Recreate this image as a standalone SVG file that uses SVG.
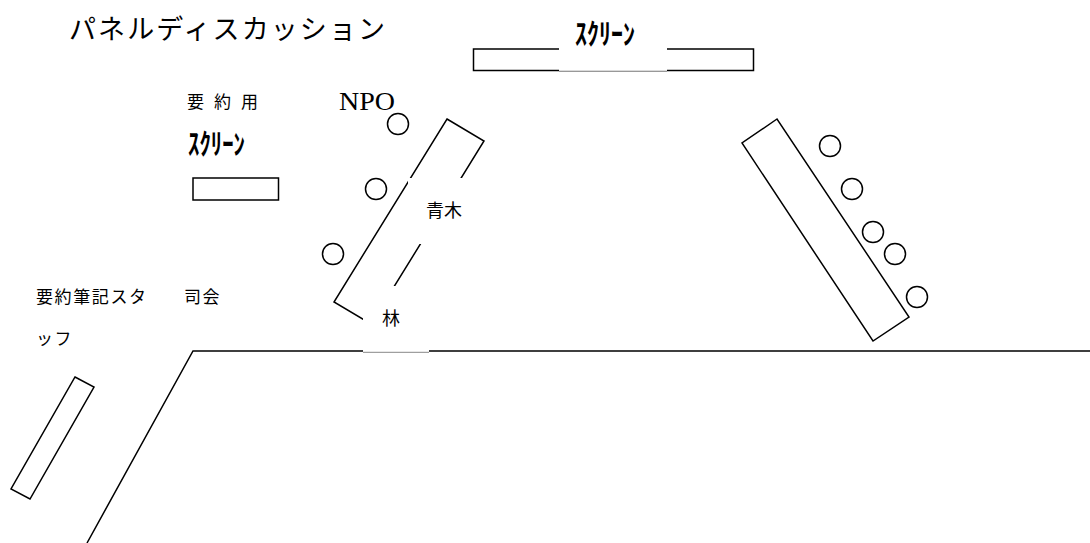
<svg xmlns="http://www.w3.org/2000/svg" width="1090" height="543" viewBox="0 0 1090 543">
<style>
.ln{fill:none;stroke:#000;stroke-width:1.5}
.seat{fill:#fff;stroke:#000;stroke-width:1.5}
.mask{fill:#fff;stroke:none}
.jp{font-family:"Noto Sans CJK JP","Noto Sans",sans-serif;fill:#000}
.hk{font-family:"Noto Sans CJK JP","Noto Sans",sans-serif;font-weight:bold;fill:#000;font-size:29px}
.thin{stroke:#888;stroke-width:1}
</style>
<rect width="1090" height="543" fill="#fff"/>
<g id="title"><text class="jp" x="69" y="39" font-size="27" textLength="316" lengthAdjust="spacing">パネルディスカッション</text></g>
<g id="connectors">
<polyline class="ln" points="1090,351 193,351 87,543"/>
</g>
<g id="main-screen">
<rect class="ln" x="473.5" y="49" width="280" height="21.5"/>
<rect class="mask" x="559" y="18" width="108" height="53"/>
<line class="thin" x1="559" y1="71.2" x2="667" y2="71.2"/>
<text class="hk" x="575" y="45" textLength="60" lengthAdjust="spacingAndGlyphs">ｽｸﾘｰﾝ</text>
</g>
<g id="summary-screen">
<text class="jp" x="187" y="108" font-size="17" letter-spacing="10">要約用</text>
<text class="hk" x="188" y="155" textLength="57" lengthAdjust="spacingAndGlyphs">ｽｸﾘｰﾝ</text>
<rect class="ln" x="193" y="178" width="85.5" height="22"/>
</g>
<g id="npo">
<text x="339" y="109.5" font-family="'Liberation Serif',serif" font-size="26" textLength="56" lengthAdjust="spacingAndGlyphs">NPO</text>
</g>
<g id="left-table">
<polygon class="ln" points="447,119 484,141 371,324 334,302"/>
<circle class="seat" cx="398" cy="124" r="10.5"/>
<circle class="seat" cx="376" cy="189" r="10.5"/>
<circle class="seat" cx="333" cy="254" r="10.5"/>
</g>
<g id="label-aoki">
<rect class="mask" x="408" y="178" width="64" height="66"/>
<text class="jp" x="426" y="217" font-size="18">青木</text>
</g>
<g id="label-hayashi">
<rect class="mask" x="363" y="286" width="66" height="66.5"/>
<line class="thin" x1="363" y1="352.3" x2="429" y2="352.3"/>
<text class="jp" x="382" y="325" font-size="18">林</text>
</g>
<g id="right-table">
<polygon class="ln" points="777,119 742,143 873,341 909,317"/>
<circle class="seat" cx="830" cy="146" r="10.5"/>
<circle class="seat" cx="852" cy="189" r="10.5"/>
<circle class="seat" cx="873" cy="232" r="10.5"/>
<circle class="seat" cx="895" cy="254" r="10.5"/>
<circle class="seat" cx="917" cy="297" r="10.5"/>
</g>
<g id="staff">
<text class="jp" x="36" y="303" font-size="17" letter-spacing="1.6">要約筆記スタ</text>
<text class="jp" x="36" y="345" font-size="17" letter-spacing="1.6">ッフ</text>
<polygon class="ln" points="75,377 94,387 30,499 11,489"/>
</g>
<g id="moderator">
<text class="jp" x="184" y="303" font-size="17" letter-spacing="1.6">司会</text>
</g>
</svg>
